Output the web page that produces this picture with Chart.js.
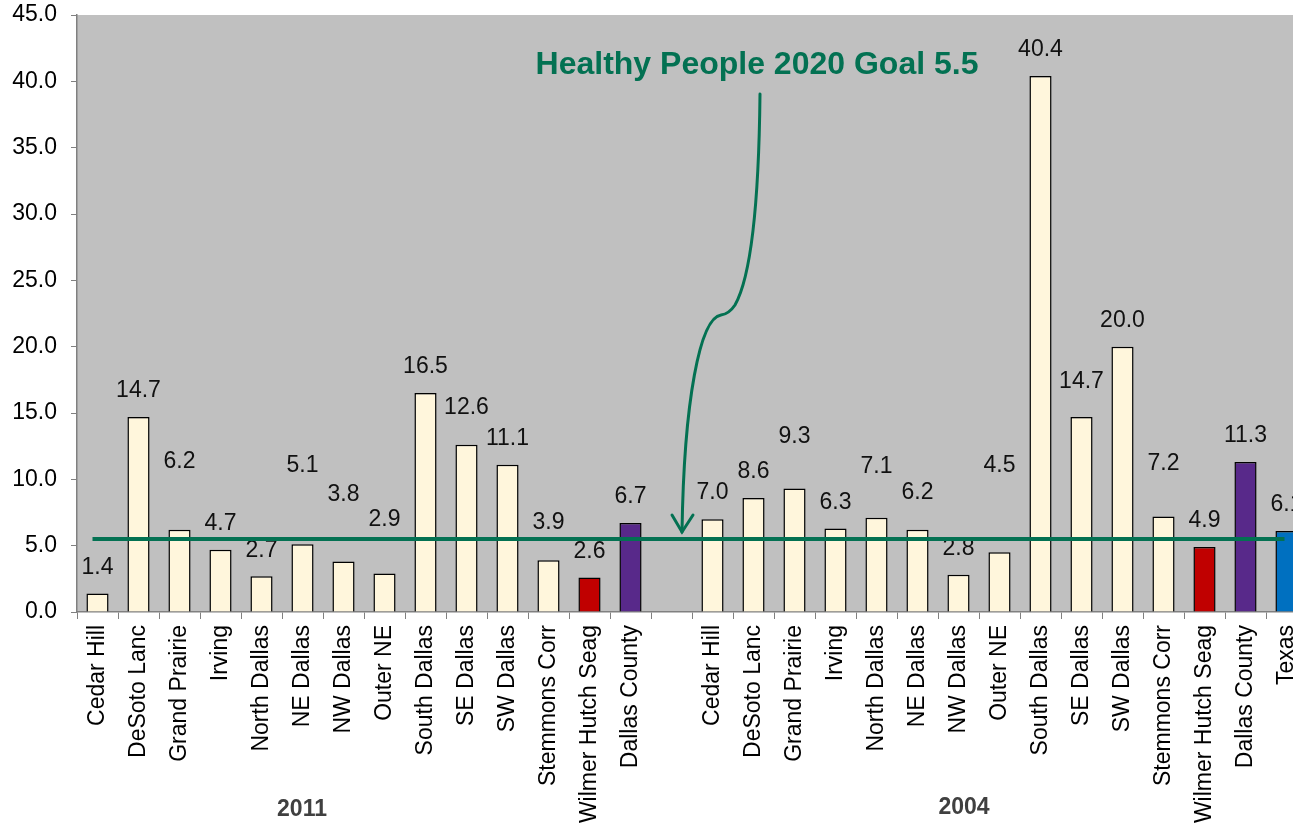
<!DOCTYPE html>
<html>
<head>
<meta charset="utf-8">
<script src="https://cdn.jsdelivr.net/npm/chart.js@4"></script>
<style>
  html, body { margin: 0; padding: 0; background: #fff; overflow: hidden; }
  #wrap { width: 1293px; height: 836px; overflow: hidden; }
</style>
</head>
<body>
<div id="wrap"><canvas id="chart" width="1320" height="836"></canvas></div>
<script>
// categories: 2011 group, a blank gap, then 2004 group
const areas2011 = ["Cedar Hill", "DeSoto Lanc", "Grand Prairie", "Irving", "North Dallas", "NE Dallas",
  "NW Dallas", "Outer NE", "South Dallas", "SE Dallas", "SW Dallas", "Stemmons Corr",
  "Wilmer Hutch Seag", "Dallas County"];
const areas2004 = ["Cedar Hill", "DeSoto Lanc", "Grand Prairie", "Irving", "North Dallas", "NE Dallas",
  "NW Dallas", "Outer NE", "South Dallas", "SE Dallas", "SW Dallas", "Stemmons Corr",
  "Wilmer Hutch Seag", "Dallas County", "Texas"];
const values2011 = [1.4, 14.7, 6.2, 4.7, 2.7, 5.1, 3.8, 2.9, 16.5, 12.6, 11.1, 3.9, 2.6, 6.7];
const values2004 = [7.0, 8.6, 9.3, 6.3, 7.1, 6.2, 2.8, 4.5, 40.4, 14.7, 20.0, 7.2, 4.9, 11.3, 6.1];
const yTicks = [0, 5, 10, 15, 20, 25, 30, 35, 40, 45];
const goal = 5.5;

const labels = [...areas2011, "", ...areas2004];
const values = [...values2011, null, ...values2004];

const cream = "#FFF6DC";
const colorFor = name => {
  if (name === "Wilmer Hutch Seag") return "#C00000";
  if (name === "Dallas County") return "#58298A";
  if (name === "Texas") return "#0070C0";
  return cream;
};
const barColors = labels.map(colorFor);

const green = "#037152";
const font = "'Liberation Sans', Arial, sans-serif";

// value labels: most sit just above the bar, some were dragged higher
const liftOverride = { 2: 68, 5: 79, 6: 67, 7: 54, 9: 37, 11: 38, 17: 52, 19: 51, 20: 37, 22: 87, 24: 35, 26: 53 };

const extras = {
  id: "extras",
  beforeDraw(chart) {
    const { ctx, chartArea: a } = chart;
    ctx.save();
    ctx.fillStyle = "#C0C0C0";
    ctx.fillRect(a.left, a.top, a.right - a.left, a.bottom - a.top);
    ctx.restore();
  },
  afterDatasetsDraw(chart) {
    const { ctx } = chart;
    const x = chart.scales.x, y = chart.scales.y;
    const meta = chart.getDatasetMeta(0);
    ctx.save();
    // value labels
    ctx.font = "23px " + font;
    ctx.fillStyle = "#111";
    ctx.textAlign = "center";
    ctx.textBaseline = "middle";
    meta.data.forEach((bar, i) => {
      if (values[i] == null) return;
      const lift = liftOverride[i] || 26;
      ctx.fillText(values[i].toFixed(1), bar.x, bar.y - lift);
    });
    // goal line
    const gy = y.getPixelForValue(goal);
    ctx.strokeStyle = green;
    ctx.lineWidth = 4;
    ctx.beginPath();
    ctx.moveTo(x.getPixelForValue(0) - 5, gy);
    ctx.lineTo(x.getPixelForValue(labels.length - 1) - 2, gy);
    ctx.stroke();
    // annotation text
    ctx.fillStyle = green;
    ctx.font = "bold 32px " + font;
    ctx.fillText("Healthy People 2020 Goal 5.5", 757, 65);
    // curved arrow
    ctx.lineWidth = 3;
    ctx.lineCap = "round";
    ctx.beginPath();
    ctx.moveTo(760, 94);
    ctx.bezierCurveTo(759, 190, 752, 275, 735, 305);
    ctx.quadraticCurveTo(729, 314, 721, 315);
    ctx.bezierCurveTo(700, 318, 684, 400, 682, 532);
    ctx.stroke();
    ctx.beginPath();
    ctx.moveTo(672, 515);
    ctx.lineTo(682, 532);
    ctx.lineTo(693, 515);
    ctx.stroke();
    // group labels
    ctx.fillStyle = "#404040";
    ctx.font = "bold 23px " + font;
    ctx.fillText("2011", 302, 810);
    ctx.fillText("2004", 964, 808);
    ctx.restore();
  }
};

new Chart(document.getElementById("chart"), {
  type: "bar",
  data: {
    labels: labels,
    datasets: [{
      data: values,
      backgroundColor: barColors,
      borderColor: "#000",
      borderWidth: 1.5,
      categoryPercentage: 1,
      barPercentage: 0.54
    }]
  },
  options: {
    responsive: false,
    animation: false,
    devicePixelRatio: 1,
    layout: { padding: { top: 15, right: 13, bottom: 0, left: 0 } },
    plugins: { legend: { display: false }, tooltip: { enabled: false } },
    scales: {
      x: {
        afterFit(s) { s.height = 224; s.paddingLeft = 0; s.paddingRight = 0; },
        grid: { offset: true, drawOnChartArea: false, color: "#808080", tickLength: 7 },
        border: { color: "#808080", width: 1.5 },
        ticks: {
          autoSkip: false, maxRotation: 90, minRotation: 90, padding: 6,
          color: "#000",
          font: { family: font, size: 23 }
        }
      },
      y: {
        min: 0, max: 45,
        afterFit(s) { s.width = 77; s.paddingTop = 0; s.paddingBottom = 0; },
        afterBuildTicks(s) { s.ticks = yTicks.map(v => ({ value: v })); },
        grid: { drawOnChartArea: false, color: "#808080", tickLength: 6 },
        border: { color: "#808080", width: 1.5 },
        ticks: {
          padding: 14, color: "#000",
          callback: v => v.toFixed(1),
          font: { family: font, size: 23 }
        }
      }
    }
  },
  plugins: [extras]
});
</script>
</body>
</html>
